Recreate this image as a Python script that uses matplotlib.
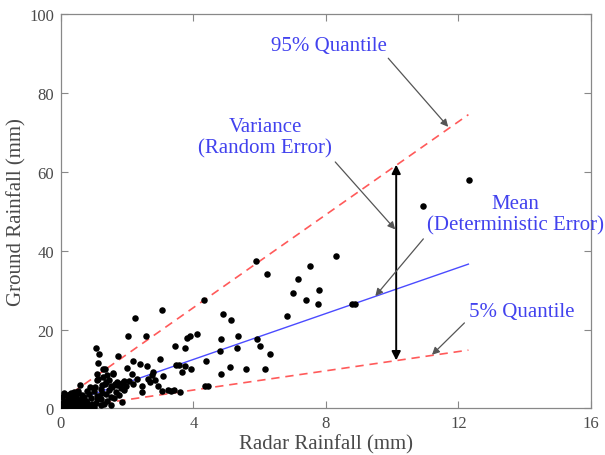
import matplotlib
matplotlib.use("Agg")
import matplotlib.pyplot as plt

# ---- data -----------------------------------------------------------
radar = [
    0.05, 0.10, 0.15, 0.20, 0.25, 0.30, 0.35, 0.40, 0.45, 0.50, 0.55, 0.60,
    0.65, 0.70, 0.75, 0.80, 0.85, 0.90, 0.95, 0.10, 0.20, 0.30, 0.35, 0.45,
    0.50, 0.60, 0.70, 0.75, 0.85, 0.90, 0.05, 0.15, 0.25, 0.40, 0.55, 0.65,
    0.02, 0.12, 0.30, 0.40, 0.50, 0.35, 0.98, 0.80, 0.57, 0.27, 0.47, 0.88,
    1.00, 1.05, 1.10, 1.15, 1.20, 1.25, 1.30, 1.35, 1.40, 1.45, 1.50, 1.55,
    1.60, 1.65, 1.70, 1.75, 1.08, 1.03, 1.08, 1.10, 1.28, 1.37, 1.58, 1.63,
    1.70, 1.13, 1.33, 1.28, 1.20, 1.45, 1.50, 1.80, 1.85, 1.90, 1.95, 1.83,
    1.06, 1.15, 1.13, 1.33, 1.73, 1.58, 1.40, 1.25, 1.90, 1.00, 1.20, 1.50,
    2.02, 2.58, 2.23, 3.05, 2.18, 2.39, 2.59, 2.00, 2.14, 2.79, 3.00, 3.44,
    3.75, 3.80, 3.90, 4.12, 3.46, 3.55, 3.75, 3.93, 3.65, 2.74, 2.64, 2.18,
    2.44, 2.44, 2.69, 2.94, 3.04, 3.24, 3.32, 3.41, 3.60, 3.09, 2.05, 2.30,
    2.85, 0.18, 0.62, 0.72, 0.08, 0.33,
    4.32, 4.90, 5.13, 5.34, 4.82, 5.91, 6.01, 6.32, 5.31, 4.80, 4.38, 5.11,
    5.58, 6.17, 4.82, 4.35, 4.45, 5.89, 6.23, 7.52, 7.17, 7.78, 6.99, 7.39,
    7.76, 8.78, 8.88, 6.83, 8.30, 10.92, 12.33,
]
ground = [
    0.3, 0.8, 0.2, 1.2, 0.5, 0.1, 0.9, 1.6, 0.4, 0.2, 1.0, 0.6,
    1.8, 0.3, 0.8, 1.4, 0.2, 0.7, 1.2, 2.0, 2.6, 2.2, 3.2, 2.8,
    3.8, 2.4, 3.0, 2.0, 3.6, 2.6, 1.5, 1.0, 1.8, 0.6, 2.0, 0.1,
    2.8, 0.5, 4.0, 4.2, 4.5, 1.4, 0.3, 4.4, 5.9, 3.7, 4.1, 5.4,
    0.5, 1.5, 2.5, 3.2, 2.4, 4.0, 1.2, 3.6, 2.0, 4.8, 3.0, 5.5,
    2.6, 4.2, 6.0, 3.4, 3.2, 5.4, 7.1, 8.8, 7.9, 6.7, 9.0, 6.2,
    6.6, 7.5, 6.2, 10.0, 5.0, 7.2, 5.8, 5.2, 6.4, 4.6, 5.8, 1.7,
    15.4, 13.9, 11.5, 10.0, 13.4, 8.7, 8.4, 6.0, 7.0, 4.4, 0.8, 1.0,
    18.5, 18.5, 22.9, 25.0, 12.1, 11.4, 10.8, 10.2, 8.8, 9.3, 12.5, 15.8,
    15.4, 17.9, 18.5, 19.0, 11.0, 11.0, 10.7, 9.9, 9.2, 8.6, 7.5, 6.2,
    5.8, 4.1, 6.6, 5.8, 4.5, 4.8, 4.5, 4.7, 4.1, 8.2, 7.0, 7.5,
    7.2, 3.4, 3.4, 1.1, 3.9, 2.6,
    27.4, 24.0, 22.4, 18.4, 17.5, 17.5, 15.9, 13.9, 15.4, 14.6, 12.0, 10.5,
    10.0, 10.0, 8.8, 5.8, 5.8, 37.5, 34.0, 36.0, 32.8, 30.0, 29.4, 27.4,
    26.6, 26.6, 26.6, 23.4, 38.6, 51.4, 57.9,
]

line_x = [0.0, 12.3]
q95_y = [2.0, 74.5]
mean_y = [0.8, 36.6]
q05_y = [-0.2, 14.8]

var_x = 10.12
var_lo, var_hi = 12.2, 61.8

xticks = [0, 4, 8, 12, 16]
yticks = [0, 20, 40, 60, 80, 100]

# ---- style ----------------------------------------------------------
plt.rcParams['font.family'] = ['Liberation Serif', 'DejaVu Serif']
txt_gray = '#4a4a4a'
blue_txt = '#4242ee'

fig = plt.figure(figsize=(6.05, 4.56), dpi=100)
ax = fig.add_axes([0.1008, 0.102, 0.876, 0.865])

ax.plot(line_x, q95_y, color='#ff5a5a', lw=1.2, dashes=(5, 3.5), zorder=2)
ax.plot(line_x, q05_y, color='#ff5a5a', lw=1.2, dashes=(5, 3.5), zorder=2)
ax.plot(line_x, mean_y, color='#4b4bff', lw=1.0, zorder=2)
ax.scatter(radar, ground, s=22, color='black', lw=0, zorder=3)

# variance double arrow
ax.annotate('', xy=(var_x, var_hi), xytext=(var_x, var_lo),
            arrowprops=dict(arrowstyle='<|-|>', color='black', lw=1.4,
                            mutation_scale=13, shrinkA=0, shrinkB=0))

arrow_kw = dict(arrowstyle='-|>', color='#555555', lw=0.9,
                mutation_scale=11, shrinkA=0, shrinkB=0)
ax.annotate('', xy=(11.69, 71.4), xytext=(9.88, 88.8), arrowprops=arrow_kw)
ax.annotate('', xy=(10.09, 45.4), xytext=(8.28, 62.5), arrowprops=arrow_kw)
ax.annotate('', xy=(9.49, 28.5), xytext=(10.94, 43.0), arrowprops=arrow_kw)
ax.annotate('', xy=(11.20, 13.6), xytext=(12.18, 21.7), arrowprops=arrow_kw)

tkw = dict(color=blue_txt, fontsize=15, ha='center', va='center',
           linespacing=1.15, clip_on=False)
ax.text(8.08, 92.0, '95% Quantile', **tkw)
ax.text(6.16, 68.8, 'Variance\n(Random Error)', **tkw)
ax.text(13.72, 49.2, 'Mean\n(Deterministic Error)', **tkw)
ax.text(13.91, 24.7, '5% Quantile', **tkw)

ax.set_xlim(0, 16)
ax.set_ylim(0, 100)
ax.set_xticks(xticks)
ax.set_yticks(yticks)
ax.tick_params(direction='in', top=True, right=True, length=5, width=0.8,
               colors='#888888', labelcolor=txt_gray, labelsize=12, pad=5)
for sp in ax.spines.values():
    sp.set_color('#888888')
    sp.set_linewidth(0.9)

ax.set_xlabel('Radar Rainfall (mm)', fontsize=15, color=txt_gray, labelpad=2)
ax.set_ylabel('Ground Rainfall (mm)', fontsize=15, color=txt_gray)
ax.yaxis.set_label_coords(-0.066, 0.5)

fig.savefig('out.png', dpi=100)
